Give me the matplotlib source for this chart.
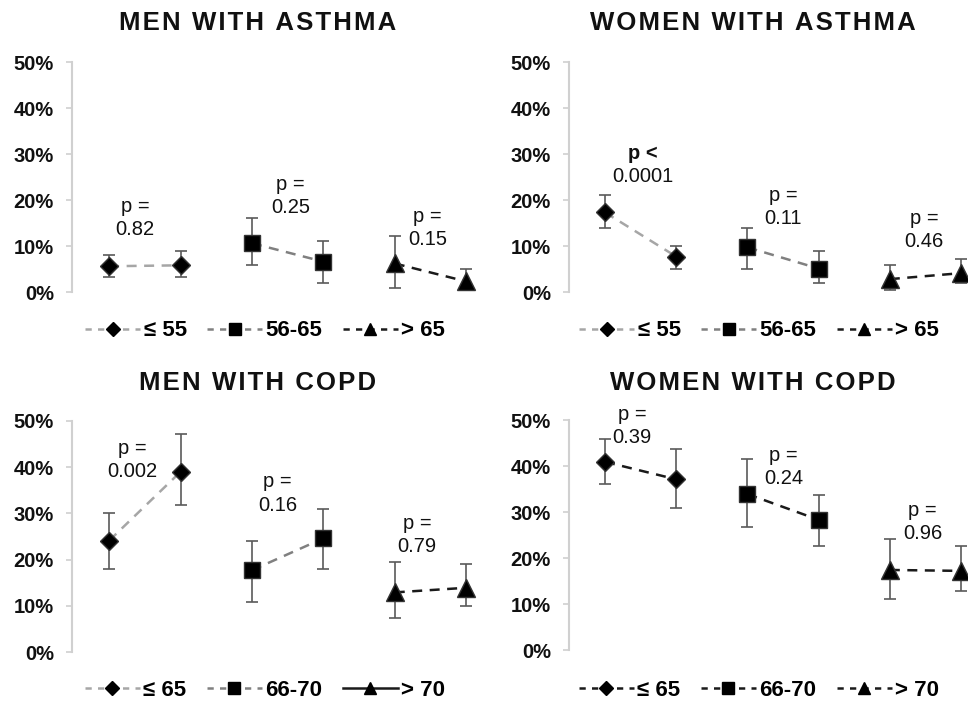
import numpy as np
import matplotlib
matplotlib.use("Agg")
import matplotlib.pyplot as plt
import matplotlib.lines as mlines

plt.rcParams['font.family'] = ['Liberation Sans', 'DejaVu Sans']

# Data (percent), pairs of points per age group
titles = ["MEN WITH ASTHMA", "WOMEN WITH ASTHMA", "MEN WITH COPD", "WOMEN WITH COPD"]
asthmaGroups = ["≤ 55", "56-65", "> 65"]
copdGroups = ["≤ 65", "66-70", "> 70"]

menAsthma = [5.6, 5.8, 10.6, 6.6, 6.2, 2.3]
menAsthmaLo = [3.2, 3.2, 5.9, 1.9, 0.9, 0.5]
menAsthmaHi = [8.1, 9.0, 16.0, 11.1, 12.1, 5.0]

womenAsthma = [17.3, 7.7, 9.7, 5.1, 2.8, 4.1]
womenAsthmaLo = [14.0, 5.0, 5.0, 1.9, 0.4, 1.9]
womenAsthmaHi = [21.0, 9.9, 13.9, 9.0, 5.9, 7.2]

menCopd = [24.1, 39.0, 17.7, 24.6, 12.9, 13.9]
menCopdLo = [17.9, 31.9, 10.8, 17.9, 7.4, 9.9]
menCopdHi = [30.1, 47.1, 24.1, 31.0, 19.5, 19.0]

womenCopd = [40.9, 37.1, 33.9, 28.3, 17.4, 17.2]
womenCopdLo = [36.0, 30.8, 26.7, 22.7, 11.1, 12.8]
womenCopdHi = [45.9, 43.8, 41.6, 33.8, 24.2, 22.7]

# p-value labels: (first line, second line, first line bold)
menAsthmaP = [("p =", "0.82", False), ("p =", "0.25", False), ("p =", "0.15", False)]
womenAsthmaP = [("p <", "0.0001", True), ("p =", "0.11", False), ("p =", "0.46", False)]
menCopdP = [("p =", "0.002", False), ("p =", "0.16", False), ("p =", "0.79", False)]
womenCopdP = [("p =", "0.39", False), ("p =", "0.24", False), ("p =", "0.96", False)]

# where the p labels sit (x, y of the second line)
menAsthmaPPos = [(1.36, 13.5), (3.54, 18.3), (5.46, 11.5)]
womenAsthmaPPos = [(1.53, 25.2), (3.50, 15.9), (5.48, 10.9)]
menCopdPPos = [(1.33, 39.0), (3.36, 31.8), (5.31, 22.9)]
womenCopdPPos = [(1.38, 46.3), (3.51, 37.2), (5.46, 25.4)]

markers = ['D', 's', '^']
markerSizes = [9.5, 11.5, 12.5]
grayLines = ['#a6a6a6', '#808080', '#1a1a1a']
blackLines = ['#1a1a1a', '#1a1a1a', '#1a1a1a']

panels = [
    (menAsthma, menAsthmaLo, menAsthmaHi, menAsthmaP, menAsthmaPPos, asthmaGroups, grayLines, False),
    (womenAsthma, womenAsthmaLo, womenAsthmaHi, womenAsthmaP, womenAsthmaPPos, asthmaGroups, grayLines, False),
    (menCopd, menCopdLo, menCopdHi, menCopdP, menCopdPPos, copdGroups, grayLines, True),
    (womenCopd, womenCopdLo, womenCopdHi, womenCopdP, womenCopdPPos, copdGroups, blackLines, False),
]

W, H = 968, 702
fig = plt.figure(figsize=(W / 100, H / 100), dpi=100)

# axes boxes in pixels: left, bottom(0%), width, top(50%)
boxes = [(72, 292, 412, 62), (569, 292, 399, 62), (72, 652, 412, 421), (569, 650, 399, 420)]
xlims = [(0.48, 6.25), (0.494, 6.098), (0.48, 6.25), (0.494, 6.098)]
titleCenters = [(258, 23), (753, 23), (258, 383), (753, 383)]
legendCenters = [(265, 331), (759, 331), (265, 690), (759, 690)]

def spaced(s):
    return "\u200a".join(list(s))

for i, (vals, lo, hi, pLabels, pPos, groups, colors, solidLast) in enumerate(panels):
    left, bottom, width, top = boxes[i]
    ax = fig.add_axes([left / W, (H - bottom) / H, width / W, (bottom - top) / H])
    ax.set_xlim(*xlims[i])
    ax.set_ylim(0, 50)

    x = np.arange(1, 7)
    vals = np.array(vals)
    yerr = np.array([vals - np.array(lo), np.array(hi) - vals])
    ax.errorbar(x, vals, yerr=yerr, fmt='none', ecolor='#5a5a5a', elinewidth=1.2,
                capsize=4.3, capthick=1.2, zorder=2, clip_on=False)

    handles = []
    for g in range(3):
        xs = x[2 * g:2 * g + 2]
        ys = vals[2 * g:2 * g + 2]
        ax.plot(xs, ys, linestyle=(0, (4, 3)), color=colors[g], linewidth=1.8, zorder=1)
        ax.plot(xs, ys, linestyle='none', marker=markers[g], markersize=markerSizes[g],
                markerfacecolor='black', markeredgecolor='#333333', zorder=3, clip_on=False)
        ls = '-' if (solidLast and g == 2) else (0, (2.5, 2.5))
        handles.append(mlines.Line2D([], [], color=colors[g], linestyle=ls, linewidth=1.8,
                                     marker=markers[g], markersize=markerSizes[g] * 0.72,
                                     markerfacecolor='black', markeredgecolor='black',
                                     label=groups[g]))

    for (l1, l2, b1), (px, py) in zip(pLabels, pPos):
        ax.text(px, py + 5.0, l1, ha='center', va='center', fontsize=14.5,
                fontweight='bold' if b1 else 'normal', color='#111111')
        ax.text(px, py, l2, ha='center', va='center', fontsize=14.5, color='#111111')

    ax.set_yticks([0, 10, 20, 30, 40, 50])
    ax.set_yticklabels(["0%", "10%", "20%", "30%", "40%", "50%"], fontweight='bold', fontsize=14.5)
    ax.set_xticks([])
    ax.tick_params(axis='y', length=4, width=1.2, color='#d0d0d0', pad=9, labelcolor='#111111')
    for side in ['top', 'right', 'bottom']:
        ax.spines[side].set_visible(False)
    ax.spines['left'].set_color('#d0d0d0')
    ax.spines['left'].set_linewidth(1.5)

    lx, ly = legendCenters[i]
    ax.legend(handles=handles, loc='center', bbox_to_anchor=(lx / W, (H - ly) / H),
              bbox_transform=fig.transFigure, ncol=3, frameon=False, handlelength=2.5,
              handletextpad=0.15, columnspacing=0.9, prop={'weight': 'bold', 'size': 16})

    tx, ty = titleCenters[i]
    fig.text(tx / W, (H - ty) / H, spaced(titles[i]), ha='center', va='center',
             fontsize=18.5, fontweight='bold', color='#111111')

fig.savefig("out.png", dpi=100)
